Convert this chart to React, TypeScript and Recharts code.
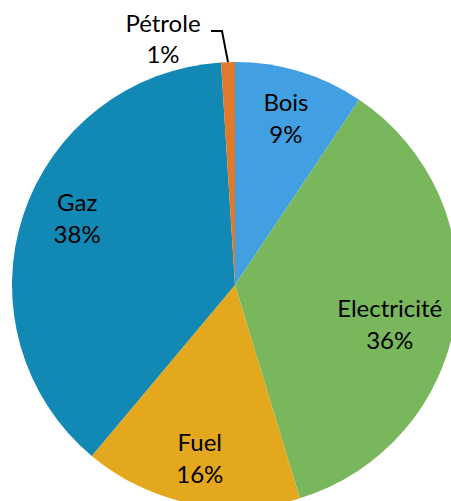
import React from 'react';
import { PieChart, Pie, Cell } from 'recharts';

// Energy mix shares (%), labels show rounded values
const categories = ['Bois', 'Electricité', 'Fuel', 'Gaz', 'Pétrole'];
const shares = [9.4, 35.9, 15.8, 37.9, 1.0];
const colors = ['#42A0E2', '#78B75B', '#E3A81E', '#1289B4', '#E0792A'];

// label placement tweaks (fraction of radius, angle shift in degrees)
const labelRadius = [0.785, 0.715, 0.79, 0.77, 1];
const labelAngleShift = [0, -5.5, 0, -5, 0];

const data = categories.map((name, i) => ({ name, value: shares[i] }));

const RADIAN = Math.PI / 180;
const FONT = 'Lato, "DejaVu Sans", sans-serif';
const FONT_SIZE = 24;

const renderLabel = (props: any) => {
    const { cx, cy, midAngle, outerRadius, index, name, value } = props;
    const pct = `${Math.round(value)}%`;
    if (index === 4) {
        // outside label with leader line (Pétrole)
        const x0 = cx + outerRadius * Math.cos(-midAngle * RADIAN);
        const y0 = cy + outerRadius * Math.sin(-midAngle * RADIAN);
        const x1 = x0 - 6;
        const y1 = y0 - 31;
        const x2 = x1 - 11;
        return (
            <g>
                <polyline points={`${x0},${y0} ${x1},${y1} ${x2},${y1}`} fill="none" stroke="#000" strokeWidth={2} />
                <text x={x2 - 48} y={y1 - 9} fill="#000" fontFamily={FONT} fontSize={FONT_SIZE} textAnchor="middle" dominantBaseline="central">
                    {name}
                </text>
                <text x={x2 - 48} y={y1 + 22} fill="#000" fontFamily={FONT} fontSize={FONT_SIZE} textAnchor="middle" dominantBaseline="central">
                    {pct}
                </text>
            </g>
        );
    }
    const a = (midAngle + labelAngleShift[index]) * RADIAN;
    const r = outerRadius * labelRadius[index];
    const x = cx + r * Math.cos(-a);
    const y = cy + r * Math.sin(-a);
    return (
        <g>
            <text x={x} y={y - 16} fill="#000" fontFamily={FONT} fontSize={FONT_SIZE} textAnchor="middle" dominantBaseline="central">
                {name}
            </text>
            <text x={x} y={y + 16} fill="#000" fontFamily={FONT} fontSize={FONT_SIZE} textAnchor="middle" dominantBaseline="central">
                {pct}
            </text>
        </g>
    );
};

export default function App() {
    return (
        <div style={{ position: 'fixed', left: 0, top: 0, width: 451, height: 501, background: '#fff' }}>
            <PieChart width={451} height={501} margin={{ top: 0, right: 0, bottom: 0, left: 0 }}>
                <Pie
                    data={data}
                    dataKey="value"
                    nameKey="name"
                    cx={235}
                    cy={285}
                    outerRadius={223}
                    startAngle={90}
                    endAngle={-270}
                    stroke="none"
                    label={renderLabel}
                    labelLine={false}
                    isAnimationActive={false}
                >
                    {data.map((d, i) => (
                        <Cell key={d.name} fill={colors[i]} />
                    ))}
                </Pie>
            </PieChart>
        </div>
    );
}
